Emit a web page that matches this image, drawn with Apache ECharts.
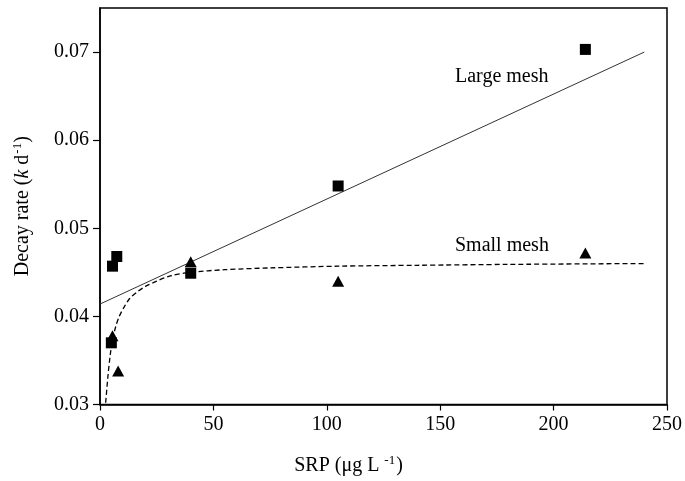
<!DOCTYPE html>
<html>
<head>
<meta charset="utf-8">
<script src="https://cdn.jsdelivr.net/npm/echarts@6/dist/echarts.min.js"></script>
<style>
html,body{margin:0;padding:0;background:#fff;}
#chart{width:685px;height:481px;}
</style>
</head>
<body>
<div id="chart"></div>
<script>
// Large mesh (squares)
const largeSRP   = [5, 5.5, 7.4, 40, 105, 214];
const largeDecay = [0.0370, 0.0457, 0.0468, 0.0449, 0.0548, 0.0703];
// Small mesh (triangles)
const smallSRP   = [5.5, 8, 40, 105, 214];
const smallDecay = [0.0378, 0.0338, 0.0462, 0.0440, 0.0472];
// Large mesh fitted line
const largeFitX = [0, 240];
const largeFitY = [0.0414, 0.0700];
// Small mesh fitted curve
const smallFitX = [2.5, 3.5, 4.5, 5.5, 7, 8.5, 10.5, 13, 16.5, 20, 25, 31, 40, 55, 75, 105, 140, 180, 240];
const smallFitY = [0.0302, 0.0332, 0.0356, 0.0373, 0.0389, 0.0400, 0.0410, 0.0420, 0.0428, 0.0434, 0.0440, 0.0446, 0.0450, 0.0453, 0.0455, 0.0457, 0.0458, 0.0459, 0.0460];
// Axis ticks
const xTicks = [0, 50, 100, 150, 200, 250];
const yTicks = [0.03, 0.04, 0.05, 0.06, 0.07];

const zip = (a, b) => a.map((v, i) => [v, b[i]]);
const FONT = 'Liberation Serif';

const chart = echarts.init(document.getElementById('chart'), null, {renderer: 'canvas'});
chart.setOption({
  animation: false,
  backgroundColor: '#fff',
  grid: {left: 100, right: 18, top: 8, bottom: 76, show: true, borderColor: '#000', borderWidth: 1.5, backgroundColor: 'transparent'},
  xAxis: {
    type: 'value', min: xTicks[0], max: xTicks[xTicks.length - 1], interval: 50,
    axisLine: {lineStyle: {color: '#000', width: 1.5}},
    axisTick: {inside: false, length: 6, lineStyle: {color: '#000', width: 1.2}},
    axisLabel: {color: '#000', fontFamily: FONT, fontSize: 20, margin: 10},
    splitLine: {show: false},
    name: '{a|SRP (μg L }{s|-1}{a|)}',
    nameLocation: 'middle', nameGap: 50,
    nameTextStyle: {padding: [0, 70, 0, 0], rich: {
      a: {fontFamily: FONT, fontSize: 20, color: '#000'},
      s: {fontFamily: FONT, fontSize: 13, color: '#000', verticalAlign: 'bottom', padding: [0, 1, 10, 0]}
    }}
  },
  yAxis: {
    type: 'value', min: yTicks[0], max: 0.075, interval: 0.01,
    axisLine: {lineStyle: {color: '#000', width: 1.5}},
    axisTick: {inside: false, length: 7, lineStyle: {color: '#000', width: 1.2}},
    axisLabel: {color: '#000', fontFamily: FONT, fontSize: 20, margin: 11, showMaxLabel: false,
      formatter: v => yTicks.some(t => Math.abs(t - v) < 1e-9) ? v.toFixed(2) : ''},
    splitLine: {show: false},
    name: '{a|Decay rate (}{i|k}{a| d}{s|-1}{a|)}',
    nameLocation: 'middle', nameGap: 66, nameRotate: 90,
    nameTextStyle: {rich: {
      a: {fontFamily: FONT, fontSize: 20, color: '#000'},
      i: {fontFamily: FONT, fontSize: 20, color: '#000', fontStyle: 'italic'},
      s: {fontFamily: FONT, fontSize: 13, color: '#000', verticalAlign: 'bottom', padding: [0, 0, 10, 1]}
    }}
  },
  series: [
    {
      type: 'line', data: zip(largeFitX, largeFitY), showSymbol: false, symbol: 'none',
      lineStyle: {color: '#333', width: 1}, z: 2, silent: true
    },
    {
      type: 'line', data: zip(smallFitX, smallFitY), showSymbol: false, symbol: 'none', smooth: 0.3,
      lineStyle: {color: '#000', width: 1.3, type: [5, 3]}, z: 2, silent: true
    },
    {
      type: 'scatter', data: zip(largeSRP, largeDecay), symbol: 'rect', symbolSize: 11,
      itemStyle: {color: '#000', opacity: 1}, z: 3
    },
    {
      type: 'scatter', data: zip(smallSRP, smallDecay), symbol: 'triangle', symbolSize: [12, 11],
      itemStyle: {color: '#000', opacity: 1}, z: 3
    }
  ],
  graphic: [
    {type: 'text', left: 455, top: 67, style: {text: 'Large mesh', font: '20px "Liberation Serif"', fill: '#000'}},
    {type: 'text', left: 455, top: 236, style: {text: 'Small mesh', font: '20px "Liberation Serif"', fill: '#000'}}
  ]
});
</script>
</body>
</html>
